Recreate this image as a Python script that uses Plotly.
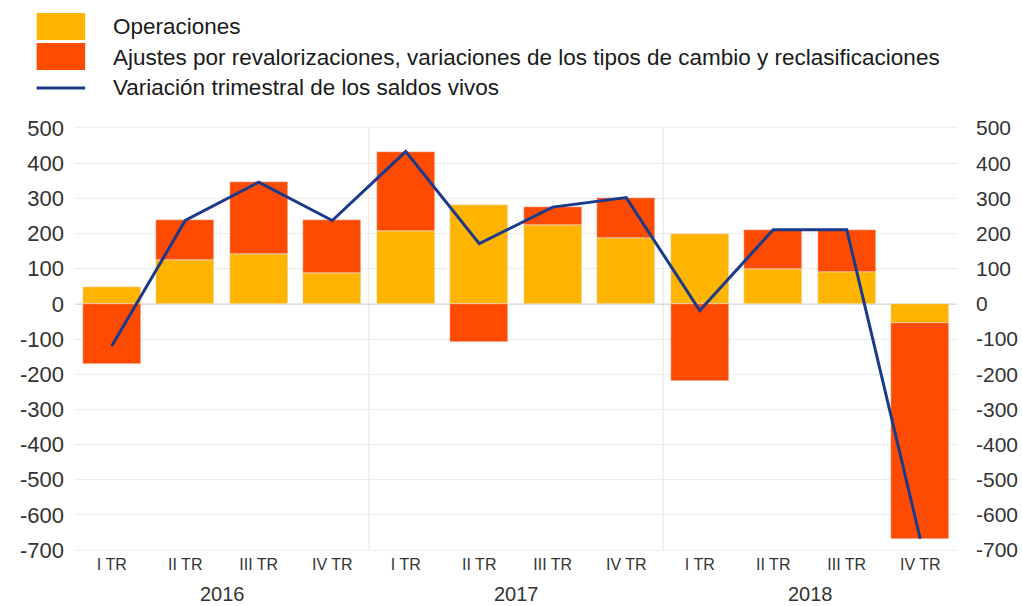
import plotly.graph_objects as go

years = ["2016", "2017", "2018"]
quarters = ["I TR", "II TR", "III TR", "IV TR"]
operaciones = [47, 126, 142, 87, 206, 282, 223, 187, 199, 100, 90, -55]
ajustes = [-170, 111, 204, 152, 225, -109, 52, 115, -218, 111, 121, -613]
variacion = [-120, 237, 346, 237, 433, 171, 275, 302, -19, 211, 211, -668]
y_ticks = [500, 400, 300, 200, 100, 0, -100, -200, -300, -400, -500, -600, -700]

names = ["Operaciones",
         "Ajustes por revalorizaciones, variaciones de los tipos de cambio y reclasificaciones",
         "Variación trimestral de los saldos vivos"]
c_op = "#FFB400"
c_aj = "#FF4B00"
c_line = "#1B3A8C"

n = len(operaciones)
x = list(range(n))
ticktext = [q for _ in years for q in quarters]
y_ticktext = [str(v) for v in y_ticks]

W, H = 1022, 606
PT, PH = 128, 422  # plot top & height in page pixels

fig = go.Figure()
fig.add_trace(go.Bar(x=x, y=operaciones, marker_color=c_op, name=names[0],
                     width=0.79, showlegend=False))
fig.add_trace(go.Bar(x=x, y=ajustes, marker_color=c_aj, name=names[1],
                     width=0.79, showlegend=False))
fig.add_trace(go.Scatter(x=x, y=variacion, mode="lines", name=names[2],
                         line=dict(color=c_line, width=3), showlegend=False))
# invisible trace for right axis
fig.add_trace(go.Scatter(x=x, y=variacion, yaxis="y2", mode="lines",
                         line=dict(width=0), hoverinfo="skip", showlegend=False,
                         opacity=0))

def py(page_y):
    return 1 + (PT - page_y) / PH

# year separators and labels
q = len(quarters)
for i, yr in enumerate(years):
    if i > 0:
        fig.add_vline(x=i * q - 0.5, line=dict(color="#e4e4e4", width=1), layer="below")
    fig.add_annotation(x=i * q + (q - 1) / 2, y=py(594), xref="x", yref="paper",
                       text=yr, showarrow=False,
                       font=dict(size=20, color="#333333"), yanchor="middle")

# custom legend
for k, col in enumerate([c_op, c_aj]):
    fig.add_shape(type="rect", xref="paper", yref="paper",
                  x0=-0.0435, x1=0.0115,
                  y0=py(40 + 30 * k), y1=py(13 + 30 * k),
                  fillcolor=col, line=dict(width=0))
fig.add_shape(type="line", xref="paper", yref="paper", x0=-0.0435, x1=0.0115,
              y0=py(88), y1=py(88), line=dict(color=c_line, width=3))
for k, nm in enumerate(names):
    fig.add_annotation(x=0.041, y=py(27 + 30.5 * k), xref="paper", yref="paper",
                       text=nm, showarrow=False, xanchor="left", yanchor="middle",
                       font=dict(size=22.5, color="#1a1a1a"))

fig.update_layout(
    width=W, height=H,
    barmode="relative", bargap=0,
    paper_bgcolor="white", plot_bgcolor="white",
    margin=dict(l=75, r=65, t=PT, b=H - PT - PH, autoexpand=False),
    font=dict(family="Liberation Sans, Arial, sans-serif"),
    xaxis=dict(range=[-0.5, n - 0.5], tickvals=x, ticktext=ticktext,
               showgrid=False, zeroline=False, ticks="", automargin=False,
               tickfont=dict(size=16, color="#333333"),
               showline=True, linecolor="#eeeeee", mirror=True),
    yaxis=dict(range=[-700, 500], tickvals=y_ticks, ticktext=y_ticktext, ticks="",
               showgrid=True, gridcolor="#ebebeb", zeroline=False, automargin=False,
               tickfont=dict(size=22, color="#333333"), showline=False,
               ticklabelstandoff=10),
    yaxis2=dict(range=[-700, 500], tickvals=y_ticks, ticktext=y_ticktext,
                overlaying="y", side="right", automargin=False,
                showgrid=False, zeroline=False, ticks="",
                tickfont=dict(size=21, color="#333333"), ticklabelstandoff=18),
)
fig.add_hline(y=0, line=dict(color="#999999", width=1), layer="below")

fig.write_html("out.html",
               config={"displayModeBar": False},
               post_script="document.body.style.margin='0';"
                           "document.body.style.overflow='hidden';")
